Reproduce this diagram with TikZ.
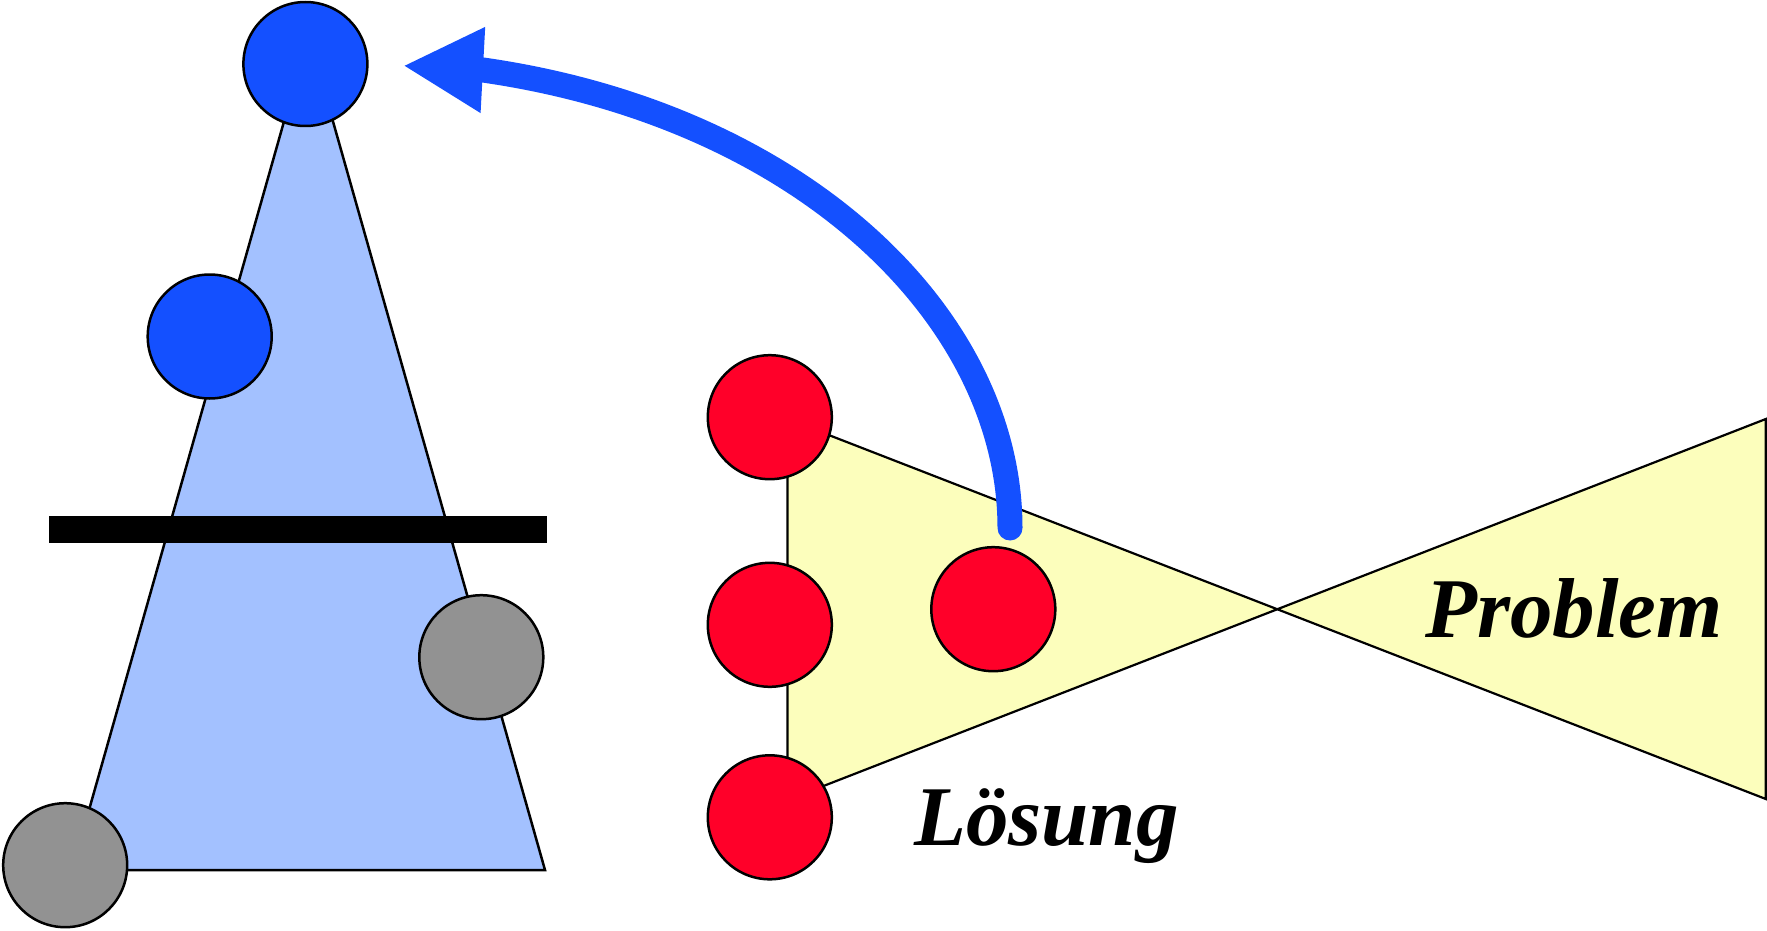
\documentclass[tikz,border=0pt]{standalone}
\usepackage{fontspec}
\setmainfont{Liberation Serif}
\usetikzlibrary{arrows.meta}
\definecolor{dotblue}{RGB}{20,80,255}
\definecolor{lightblue}{RGB}{163,193,255}
\definecolor{dotgray}{RGB}{146,146,146}
\definecolor{dotred}{RGB}{255,0,41}
\definecolor{paleyellow}{RGB}{252,254,188}
\begin{document}
\begin{tikzpicture}[x=1pt,y=-1pt,
  dot/.style={circle, draw=black, line width=2.5pt, minimum size=124pt, inner sep=0pt},
  edgeline/.style={draw=black, line width=2.5pt, line join=miter},
  txt/.style={font=\fontsize{85}{100}\selectfont\bfseries\itshape, inner sep=0pt, anchor=base west}]
\useasboundingbox (0,0) rectangle (1767,931);
\fill[white] (0,0) rectangle (1767,931);
% blue tree triangle
\path[edgeline, fill=lightblue] (308.5,35) -- (72,870) -- (545,870) -- cycle;
\fill[black] (48.5,515.5) rectangle (546.5,542.5);
\node[dot, fill=dotblue] (b1) at (305.4,64) {};
\node[dot, fill=dotblue] (b2) at (209.7,336.5) {};
\node[dot, fill=dotgray] (g1) at (481.3,657.2) {};
\node[dot, fill=dotgray] (g2) at (65.2,865.2) {};
% bowtie
\path[draw=black, line width=2.2pt, fill=paleyellow] (787.5,419) -- (1765.8,799) -- (1765.8,419) -- (787.5,800) -- cycle;
\node[dot, fill=dotred] (r1) at (769.8,417.2) {};
\node[dot, fill=dotred] (r2) at (769.8,624.8) {};
\node[dot, fill=dotred] (r3) at (769.8,817.3) {};
\node[dot, fill=dotred] (r4) at (993.3,609.2) {};
% labels
\node[txt] (losung) at (914,845) {Lösung};
\node[txt] (problem) at (1425,637) {Problem};
% arrow
\coordinate (astart) at (1010,528);
\coordinate (abend) at (483,70);
\coordinate (atip) at (403,65.7);
\draw[dotblue, line width=25pt, line cap=round, -{Triangle[length=80pt,width=80pt]}]
  (astart) .. controls (1010,318) and (803,116) .. (abend) -- (atip);
\end{tikzpicture}
\end{document}
